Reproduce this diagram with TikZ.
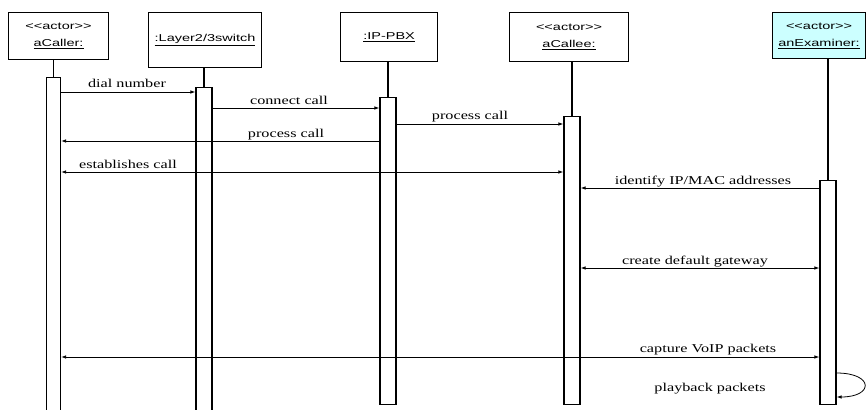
\documentclass[tikz,border=0pt]{standalone}
\usepackage{fontspec}
\setmainfont{Liberation Serif}
\setsansfont{Liberation Sans}
\usepackage{graphicx}
\usetikzlibrary{arrows.meta}
\definecolor{examfill}{RGB}{204,255,255}
\newcommand{\wide}[1]{\scalebox{1.45}[1]{#1}}

\begin{document}
\begin{tikzpicture}[x=1pt,y=-1pt,
    obj/.style={draw, line width=1.1pt, inner sep=0pt, anchor=north west, align=center,
                font=\sffamily\fontsize{10}{17}\selectfont},
    act/.style={draw, fill=white, line width=1.1pt, inner sep=0pt, minimum width=16pt, anchor=north},
    life/.style={line width=1.1pt},
    msg/.style={line width=.8pt, -{Latex[length=5pt,width=3.5pt]}},
    msgboth/.style={line width=.8pt, {Latex[length=5pt,width=3.5pt]}-{Latex[length=5pt,width=3.5pt]}},
    lbl/.style={font=\fontsize{12}{12}\selectfont, xscale=1.35, transform shape, inner sep=0pt, anchor=base}]

    \useasboundingbox (0,0) rectangle (866,409);

    % Objects
    \node[obj, minimum width=100pt, minimum height=47pt] (caller) at (8,12)
        {\wide{<{}<actor>{}>}\\\wide{\underline{aCaller:}}};
    \node[obj, minimum width=113pt, minimum height=55pt] (switch) at (148,12)
        {\wide{\underline{:Layer2/3switch}}};
    \node[obj, minimum width=97pt, minimum height=49pt] (pbx) at (340,12)
        {\wide{\underline{:IP-PBX}}};
    \node[obj, minimum width=119pt, minimum height=49pt] (callee) at (509,12)
        {\wide{<{}<actor>{}>}\\\wide{\underline{aCallee:}}};
    \node[obj, fill=examfill, minimum width=93pt, minimum height=46pt] (exam) at (772,12)
        {\wide{<{}<actor>{}>}\\\wide{\underline{anExaminer:}}};

    % Activation bars
    \node[act, minimum width=14pt, minimum height=340pt] (act-caller) at (53.5,77) {};
    \node[act, minimum height=330pt] (act-switch) at (204,87) {};
    \node[act, minimum height=307pt] (act-pbx) at (388,97) {};
    \node[act, minimum height=288pt] (act-callee) at (572,116) {};
    \node[act, minimum height=224pt] (act-exam) at (828,180) {};

    % Lifelines
    \foreach \p in {caller,switch,pbx,callee,exam} {
        \draw[life] (\p.south -| act-\p.north) -- (act-\p.north);
    }

    % Message heights
    \coordinate (m1) at (0,92);
    \coordinate (m2) at (0,108);
    \coordinate (m3) at (0,124);
    \coordinate (m4) at (0,141);
    \coordinate (m5) at (0,172);
    \coordinate (m6) at (0,188);
    \coordinate (m7) at (0,268);
    \coordinate (m8) at (0,357);
    \coordinate (m9a) at (0,373);
    \coordinate (m9b) at (0,397);

    % Messages
    \draw[msg] (act-caller.east |- m1) -- (act-switch.west |- m1);
    \draw[msg] (act-switch.east |- m2) -- (act-pbx.west |- m2);
    \draw[msg] (act-pbx.east |- m3) -- (act-callee.west |- m3);
    \draw[msg] (act-pbx.west |- m4) -- (act-caller.east |- m4);
    \draw[msgboth] (act-caller.east |- m5) -- (act-callee.west |- m5);
    \draw[msg] (act-exam.west |- m6) -- (act-callee.east |- m6);
    \draw[msgboth] (act-callee.east |- m7) -- (act-exam.west |- m7);
    \draw[msgboth] (act-caller.east |- m8) -- (act-exam.west |- m8);
    \draw[msg] (act-exam.east |- m9a) to[out=0,in=0,looseness=4] (act-exam.east |- m9b);

    % Labels
    \node[lbl] (t1) at (127,88) {dial number};
    \node[lbl] (t2) at (289,104) {connect call};
    \node[lbl] (t3) at (470,120) {process call};
    \node[lbl] (t4) at (286,137) {process call};
    \node[lbl] (t5) at (128,168) {establishes call};
    \node[lbl] (t6) at (703,184) {identify IP/MAC addresses};
    \node[lbl] (t7) at (695,264) {create default gateway};
    \node[lbl] (t8) at (708,352) {capture VoIP packets};
    \node[lbl] (t9) at (710,391) {playback packets};
\end{tikzpicture}
\end{document}
